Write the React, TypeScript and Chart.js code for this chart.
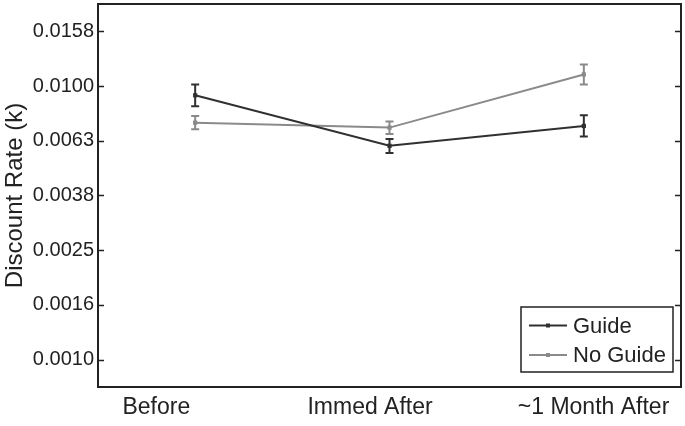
import React, { useEffect, useRef } from "react";
import { Chart, registerables } from "chart.js";

Chart.register(...registerables);

// Measurement sessions along the x axis
const CATEGORIES = ["Before", "Immed After", "~1 Month After"];
// Where each session name sits on the label axis (category slots span 0.5 – 3.5)
const LABEL_POS = [0.8, 1.9, 3.05];

// Discount rate (k) per session, with error-bar bounds
const GUIDE = [0.00925, 0.00605, 0.00715];
const GUIDE_LO = [0.00844, 0.00569, 0.00654];
const GUIDE_HI = [0.01014, 0.0064, 0.00782];

const NO_GUIDE = [0.00735, 0.00705, 0.01103];
const NO_GUIDE_LO = [0.00696, 0.00668, 0.01014];
const NO_GUIDE_HI = [0.00778, 0.00742, 0.012];

// Log-scale ticks (10^-3 ... 10^-1.8 in 0.2 steps) and their printed labels
const Y_TICK_VALUES = [0.001, 0.0015849, 0.0025119, 0.0039811, 0.0063096, 0.01, 0.0158489];
const Y_TICK_LABELS = ["0.0010", "0.0016", "0.0025", "0.0038", "0.0063", "0.0100", "0.0158"];
const Y_MIN = 0.00079433;
const Y_MAX = 0.01995262;

const SERIES_NAMES = ["Guide", "No Guide"];
const SERIES_COLORS = ["#303030", "#8a8a8a"];
const ERR_LO = [GUIDE_LO, NO_GUIDE_LO];
const ERR_HI = [GUIDE_HI, NO_GUIDE_HI];

const FONT = "'Liberation Sans', Arial, Helvetica, sans-serif";

const framePlugin = {
  id: "frameAndErrors",
  afterDatasetsDraw(chart: any) {
    const { ctx, chartArea: a, scales } = chart;
    const y = scales.y;
    const x = scales.x;
    ctx.save();

    // error bars
    chart.data.datasets.forEach((ds: any, di: number) => {
      ctx.strokeStyle = SERIES_COLORS[di];
      ctx.lineWidth = 2;
      ds.data.forEach((_: number, i: number) => {
        const px = x.getPixelForValue(i);
        const yl = y.getPixelForValue(ERR_LO[di][i]);
        const yh = y.getPixelForValue(ERR_HI[di][i]);
        ctx.beginPath();
        ctx.moveTo(px, yl);
        ctx.lineTo(px, yh);
        ctx.moveTo(px - 4, yl);
        ctx.lineTo(px + 4, yl);
        ctx.moveTo(px - 4, yh);
        ctx.lineTo(px + 4, yh);
        ctx.stroke();
      });
    });

    // axes frame
    ctx.strokeStyle = "#222222";
    ctx.lineWidth = 2;
    ctx.strokeRect(a.left, a.top, a.right - a.left, a.bottom - a.top);

    // inward ticks on left and right axes
    ctx.lineWidth = 1.5;
    y.ticks.forEach((t: any) => {
      const py = Math.round(y.getPixelForValue(t.value)) + 0.5;
      ctx.beginPath();
      ctx.moveTo(a.left, py);
      ctx.lineTo(a.left + 6, py);
      ctx.moveTo(a.right, py);
      ctx.lineTo(a.right - 6, py);
      ctx.stroke();
    });
    ctx.restore();
  },
  afterDraw(chart: any) {
    const { ctx, chartArea: a } = chart;
    const w = 152;
    const h = 65;
    const bx = a.right - 8 - w;
    const by = a.bottom - 15 - h;
    ctx.save();
    ctx.fillStyle = "#ffffff";
    ctx.fillRect(bx, by, w, h);
    ctx.strokeStyle = "#222222";
    ctx.lineWidth = 1.5;
    ctx.strokeRect(bx, by, w, h);
    ctx.font = `22px ${FONT}`;
    ctx.textBaseline = "middle";
    ctx.textAlign = "left";
    SERIES_NAMES.forEach((name, i) => {
      const cy = by + 18.5 + i * 29.5;
      ctx.strokeStyle = SERIES_COLORS[i];
      ctx.lineWidth = 2;
      ctx.beginPath();
      ctx.moveTo(bx + 8, cy);
      ctx.lineTo(bx + 46, cy);
      ctx.stroke();
      ctx.fillStyle = SERIES_COLORS[i];
      ctx.fillRect(bx + 25, cy - 2, 4, 4);
      ctx.fillStyle = "#222222";
      ctx.fillText(name, bx + 52, cy + 1);
    });
    ctx.restore();
  },
};

export default function App() {
  const ref = useRef<HTMLCanvasElement>(null);

  useEffect(() => {
    document.body.style.margin = "0";
    const canvas = ref.current;
    if (!canvas) return;
    const chart = new Chart(canvas, {
      type: "line",
      data: {
        labels: CATEGORIES,
        datasets: [GUIDE, NO_GUIDE].map((vals, i) => ({
          label: SERIES_NAMES[i],
          data: vals,
          borderColor: SERIES_COLORS[i],
          backgroundColor: SERIES_COLORS[i],
          borderWidth: 2,
          pointStyle: "rect",
          pointRadius: 3,
          pointBorderWidth: 0,
          tension: 0,
          xAxisID: "x",
          yAxisID: "y",
        })),
      },
      options: {
        responsive: false,
        animation: false,
        devicePixelRatio: 1,
        layout: { padding: { top: 3, right: 3, left: 0, bottom: 0 } },
        plugins: {
          legend: { display: false },
          tooltip: { enabled: false },
        },
        scales: {
          x: {
            type: "category",
            offset: true,
            display: false,
          },
          xLabels: {
            type: "linear",
            position: "bottom",
            min: 0.5,
            max: 3.5,
            grid: { display: false, drawTicks: false },
            border: { display: false },
            afterBuildTicks: (s: any) => {
              s.ticks = LABEL_POS.map((v) => ({ value: v }));
            },
            ticks: {
              autoSkip: false,
              maxRotation: 0,
              padding: 7,
              color: "#222222",
              font: { family: FONT, size: 23 },
              callback: (_v: any, i: number) => CATEGORIES[i],
            },
            afterFit: (s: any) => {
              s.height = 39;
              s.paddingLeft = 0;
              s.paddingRight = 0;
            },
          },
          y: {
            type: "logarithmic",
            min: Y_MIN,
            max: Y_MAX,
            grid: { display: false, drawTicks: false },
            border: { display: false },
            afterBuildTicks: (s: any) => {
              s.ticks = Y_TICK_VALUES.map((v) => ({ value: v }));
            },
            ticks: {
              padding: 4,
              color: "#222222",
              font: { family: FONT, size: 20 },
              callback: (_v: any, i: number) => Y_TICK_LABELS[i],
            },
            title: {
              display: true,
              text: "Discount Rate (k)",
              color: "#222222",
              font: { family: FONT, size: 24 },
              padding: { top: 1, bottom: 0 },
            },
            afterFit: (s: any) => {
              s.width = 98;
              s.paddingTop = 0;
              s.paddingBottom = 0;
            },
          },
        },
      },
      plugins: [framePlugin],
    });
    return () => chart.destroy();
  }, []);

  return <canvas ref={ref} width={685} height={426} style={{ display: "block" }} />;
}
